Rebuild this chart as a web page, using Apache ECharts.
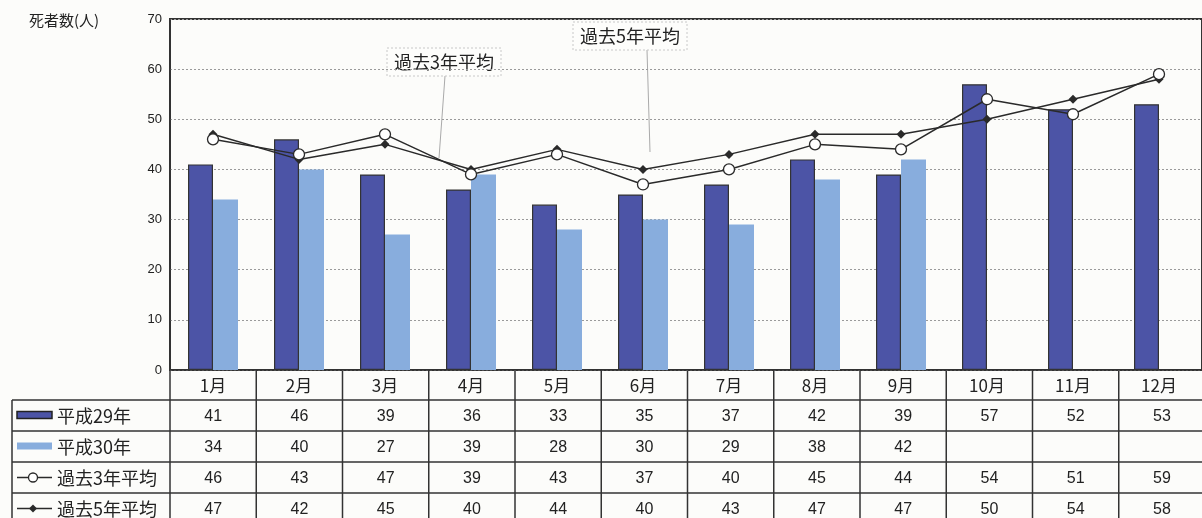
<!DOCTYPE html>
<html>
<head>
    <meta charset="utf-8">
    <title>死者数 月別推移</title>
    <script type="text/javascript" src="https://cdn.jsdelivr.net/npm/echarts@6/dist/echarts.min.js"></script>
    <style>
        body { margin: 0; background: #fcfcfa; }
    </style>
</head>
<body>
    <div id="main" style="width:1202px; height:518px;"></div>
    <script type="text/javascript">

    // データ
    var months = ['1月', '2月', '3月', '4月', '5月', '6月', '7月', '8月', '9月', '10月', '11月', '12月'];
    var h29 = [41, 46, 39, 36, 33, 35, 37, 42, 39, 57, 52, 53];
    var h30 = [34, 40, 27, 39, 28, 30, 29, 38, 42, null, null, null];
    var avg3 = [46, 43, 47, 39, 43, 37, 40, 45, 44, 54, 51, 59];
    var avg5 = [47, 42, 45, 40, 44, 40, 43, 47, 47, 50, 54, 58];
    var rowNames = ['平成29年', '平成30年', '過去3年平均', '過去5年平均'];

    var FONT = '"Noto Sans CJK JP", "Noto Sans", sans-serif';
    var NUMFONT = 'Arial, "Liberation Sans", sans-serif';
    var darkBlue = '#4c54a6';
    var lightBlue = '#88addd';
    var lineCol = '#2a2a2a';

    // レイアウト
    var gLeft = 170, gTop = 19, gWidth = 1035, gHeight = 351;
    var colW = gWidth / months.length;
    var tTop = gTop + gHeight;      // 表の上端
    var rowH = 31;
    var hdrH = 30;
    var tblLeft = 12;

    var myChart = echarts.init(document.getElementById('main'));

    // 表（グラフィック）
    var g = [];
    var rows = [h29, h30, avg3, avg5];
    var bodyTop = tTop + hdrH;
    // 横線
    for (var r = 0; r < rows.length + 1; r++) {
        var y = bodyTop + r * rowH;
        g.push({type: 'line', shape: {x1: tblLeft, y1: y, x2: 1202, y2: y}, style: {stroke: '#333', lineWidth: 1.5}});
    }
    // 縦線
    g.push({type: 'line', shape: {x1: tblLeft, y1: bodyTop, x2: tblLeft, y2: 518}, style: {stroke: '#333', lineWidth: 1.5}});
    for (var c = 0; c <= months.length; c++) {
        var x = gLeft + c * colW;
        g.push({type: 'line', shape: {x1: x, y1: tTop, x2: x, y2: 518}, style: {stroke: '#333', lineWidth: 1.5}});
    }
    // 数値
    rows.forEach(function (arr, r) {
        arr.forEach(function (v, i) {
            if (v == null) return;
            g.push({
                type: 'text',
                x: gLeft + colW * (i + 0.5),
                y: bodyTop + r * rowH + rowH / 2 + 1,
                style: {text: String(v), fontSize: 16, fontFamily: NUMFONT, fill: '#222', align: 'center', verticalAlign: 'middle'}
            });
        });
    });
    // 凡例セル
    rowNames.forEach(function (name, r) {
        var cy = bodyTop + r * rowH + rowH / 2;
        g.push({
            type: 'text', x: 57, y: cy + 1,
            style: {text: name, fontSize: 18, fontFamily: FONT, fill: '#222', verticalAlign: 'middle'}
        });
    });
    var y0 = bodyTop + rowH / 2;
    g.push({type: 'rect', shape: {x: 17, y: y0 - 4, width: 35, height: 7}, style: {fill: darkBlue, stroke: '#222', lineWidth: 1.5}});
    var y1 = bodyTop + rowH * 1.5;
    g.push({type: 'rect', shape: {x: 17, y: y1 - 4, width: 35, height: 7}, style: {fill: lightBlue}});
    var y2 = bodyTop + rowH * 2.5;
    g.push({type: 'line', shape: {x1: 17, y1: y2, x2: 52, y2: y2}, style: {stroke: lineCol, lineWidth: 1.5}});
    g.push({type: 'circle', shape: {cx: 33, cy: y2, r: 4.5}, style: {fill: '#fff', stroke: lineCol, lineWidth: 1.3}});
    var y3 = bodyTop + rowH * 3.5;
    g.push({type: 'line', shape: {x1: 17, y1: y3, x2: 52, y2: y3}, style: {stroke: lineCol, lineWidth: 1.5}});
    g.push({type: 'polygon', shape: {points: [[33, y3 - 4], [37, y3], [33, y3 + 4], [29, y3]]}, style: {fill: lineCol}});

    // 吹き出しラベル
    function callout(text, bx, by, lx1, ly1, lx2, ly2) {
        g.push({type: 'line', shape: {x1: lx1, y1: ly1, x2: lx2, y2: ly2}, style: {stroke: '#aaa', lineWidth: 1}});
        g.push({type: 'rect', shape: {x: bx, y: by, width: 114, height: 28}, style: {fill: '#fdfdfb', stroke: '#c8c8c8', lineWidth: 1, lineDash: [2, 2]}});
        g.push({type: 'text', x: bx + 57, y: by + 14, style: {text: text, fontSize: 18, fontFamily: FONT, fill: '#222', align: 'center', verticalAlign: 'middle'}});
    }
    callout('過去3年平均', 387, 48, 445, 76, 439, 158);
    callout('過去5年平均', 573, 22, 647, 50, 650, 152);

    var option = {
        backgroundColor: '#fcfcfa',
        animation: false,
        title: {
            text: '死者数(人)',
            left: 24,
            top: 8,
            textStyle: {fontSize: 15, fontWeight: 'normal', color: '#222', fontFamily: FONT}
        },
        grid: {
            left: gLeft,
            top: gTop,
            width: gWidth,
            height: gHeight,
            show: true,
            borderColor: '#333',
            borderWidth: 2,
            backgroundColor: 'transparent'
        },
        xAxis: {
            type: 'category',
            data: months,
            axisLine: {lineStyle: {color: '#333', width: 1.5}},
            axisTick: {show: false},
            axisLabel: {fontSize: 17, color: '#222', fontFamily: FONT, margin: 7, interval: 0}
        },
        yAxis: {
            type: 'value',
            min: 0,
            max: 70,
            interval: 10,
            axisLine: {show: true, lineStyle: {color: '#333', width: 1.5}},
            axisTick: {show: false},
            axisLabel: {fontSize: 13, color: '#222', fontFamily: NUMFONT, margin: 8},
            splitLine: {lineStyle: {color: '#9a9a9a', type: [2, 2], width: 1}}
        },
        series: [
            {
                name: '平成29年',
                type: 'bar',
                data: h29,
                barWidth: 25,
                barGap: '0%',
                itemStyle: {color: darkBlue, borderColor: '#333', borderWidth: 1.2}
            },
            {
                name: '平成30年',
                type: 'bar',
                data: h30,
                barWidth: 25,
                itemStyle: {color: lightBlue}
            },
            {
                name: '過去5年平均',
                type: 'line',
                data: avg5,
                symbol: 'diamond',
                symbolSize: 9,
                itemStyle: {color: lineCol},
                lineStyle: {color: lineCol, width: 1.5},
                z: 3
            },
            {
                name: '過去3年平均',
                type: 'line',
                data: avg3,
                symbol: 'circle',
                symbolSize: 11,
                itemStyle: {color: '#fff', borderColor: lineCol, borderWidth: 1.3},
                lineStyle: {color: lineCol, width: 1.5},
                z: 4
            }
        ],
        graphic: g
    };

    myChart.setOption(option);
    </script>
</body>
</html>
